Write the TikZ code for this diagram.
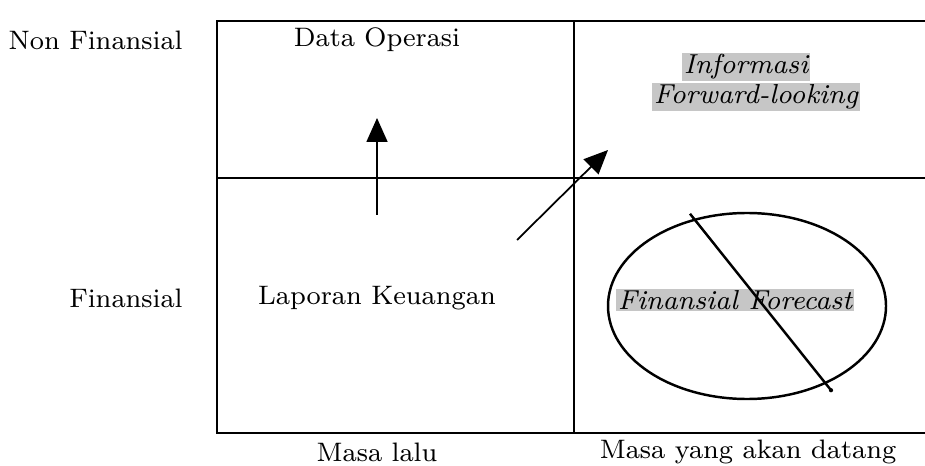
\documentclass[tikz,border=0pt]{standalone}
\usepackage{tikz}
\usetikzlibrary{arrows.meta, positioning, shapes.geometric}

\begin{document}
\begin{tikzpicture}[
  every node/.style={font=\fontsize{7.6}{9}\selectfont},
  gridline/.style={line width=0.6pt},
  shaded/.style={fill=gray!45, inner sep=0.4pt, font=\fontsize{7.8}{9}\selectfont\itshape},
  movearrow/.style={line width=0.5pt, -{Triangle[length=2.4mm, width=2.1mm]}}
]
\useasboundingbox (0,0) rectangle (9.25,4.65);

% Grid
\draw[gridline] (9.25,4.44) -- (2.17,4.44) -- (2.17,0.32) -- (9.25,0.32);
\draw[gridline] (5.74,4.44) -- (5.74,0.32);
\draw[gridline] (2.17,2.87) -- (9.25,2.87);

% Row labels
\node[anchor=east] (nonfin) at (1.95,4.25) {Non Finansial};
\node[anchor=east] (fin) at (1.95,1.67) {Finansial};

% Column labels
\node (lalu) at (3.77,0.13) {Masa lalu};
\node (datang) at (7.48,0.13) {Masa yang akan datang};

% Cells
\node (dataop) at (3.77,4.25) {Data Operasi};
\node (lapkeu) at (3.77,1.67) {Laporan Keuangan};
\node[shaded] (info) at (7.46,3.98) {Informasi};
\node[shaded] (fwd) at (7.56,3.68) {Forward-looking};

% Crossed-out forecast
\node[draw, ellipse, line width=0.7pt, minimum width=2.78cm, minimum height=1.86cm] (oval) at (7.47,1.59) {};
\node[shaded] (forecast) at (7.35,1.65) {Finansial Forecast};
\draw[line width=0.7pt] (oval.north) ++(-0.57,-0.02) coordinate (slashA)
  (oval.south) ++(0.84,0.1) coordinate (slashB);
\draw[line width=0.7pt] (slashA) -- (slashB);
\fill (slashB) circle (0.6pt);

% Arrows
\coordinate (upA) at (3.77,2.50);
\coordinate (upB) at (3.77,3.47);
\draw[movearrow] (upA) -- (upB);
\coordinate (diagA) at (5.17,2.25);
\coordinate (diagB) at (6.08,3.15);
\draw[movearrow] (diagA) -- (diagB);
\end{tikzpicture}
\end{document}
